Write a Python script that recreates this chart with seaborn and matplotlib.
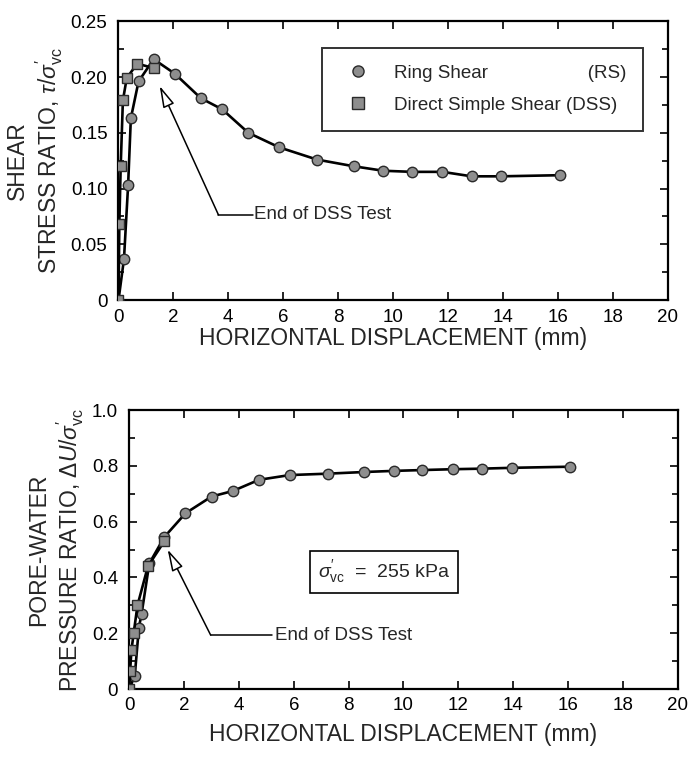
import matplotlib
matplotlib.use("Agg")
import matplotlib.pyplot as plt
from matplotlib.lines import Line2D
from matplotlib.ticker import MultipleLocator, FixedLocator
import numpy as np
import pandas as pd
import seaborn as sns

# ---------------- data ----------------
rs_disp = [0, 0.2, 0.35, 0.45, 0.73, 1.28, 2.05, 3.0, 3.78, 4.73, 5.85, 7.23,
           8.57, 9.64, 10.69, 11.8, 12.86, 13.95, 16.08]
rs_tau = [0, 0.037, 0.103, 0.163, 0.196, 0.216, 0.203, 0.181, 0.171, 0.150,
          0.137, 0.126, 0.120, 0.116, 0.115, 0.115, 0.111, 0.111, 0.112]
rs_du = [0, 0.047, 0.22, 0.27, 0.45, 0.545, 0.63, 0.69, 0.71, 0.75, 0.767,
         0.772, 0.778, 0.782, 0.785, 0.788, 0.79, 0.793, 0.797]

dss_disp = [0, 0.03, 0.08, 0.16, 0.3, 0.68, 1.28]
dss_tau = [0, 0.068, 0.120, 0.179, 0.199, 0.212, 0.208]
dss_du = [0, 0.065, 0.14, 0.20, 0.30, 0.44, 0.53]

x_ticks = [0, 2, 4, 6, 8, 10, 12, 14, 16, 18, 20]
tau_ticks = [0, 0.05, 0.10, 0.15, 0.20, 0.25]
tau_tick_labels = ["0", "0.05", "0.10", "0.15", "0.20", "0.25"]
du_ticks = [0, 0.2, 0.4, 0.6, 0.8, 1.0]
du_tick_labels = ["0", "0.2", "0.4", "0.6", "0.8", "1.0"]

series_names = ["Ring Shear", "Direct Simple Shear"]

df_top = pd.concat([
    pd.DataFrame({"disp": rs_disp, "val": rs_tau, "test": "RS"}),
    pd.DataFrame({"disp": dss_disp, "val": dss_tau, "test": "DSS"}),
], ignore_index=True)
df_bot = pd.concat([
    pd.DataFrame({"disp": rs_disp, "val": rs_du, "test": "RS"}),
    pd.DataFrame({"disp": dss_disp, "val": dss_du, "test": "DSS"}),
], ignore_index=True)

# ---------------- style ----------------
sns.set_theme(style="ticks")
plt.rcParams["font.family"] = ["Liberation Sans", "DejaVu Sans"]
plt.rcParams["mathtext.fontset"] = "custom"
plt.rcParams["mathtext.rm"] = "Liberation Sans"
plt.rcParams["mathtext.it"] = "Liberation Sans:italic"
plt.rcParams["axes.linewidth"] = 1.6

fig = plt.figure(figsize=(6.95, 7.58), dpi=100)
ax1 = fig.add_axes([0.1705, 0.604, 0.79, 0.368])
ax2 = fig.add_axes([0.186, 0.091, 0.789, 0.368])

face = "#8e8e8e"
edge = "#2a2a2a"


def draw(ax, df, xlabelpad):
    sns.lineplot(data=df, x="disp", y="val", hue="test", style="test",
                 markers={"RS": "o", "DSS": "s"}, dashes=False,
                 palette={"RS": "black", "DSS": "black"},
                 sort=False, estimator=None, lw=1.9, ax=ax,
                 markersize=7.5, markerfacecolor=face,
                 markeredgecolor=edge, markeredgewidth=1.0,
                 legend=False, zorder=3)
    ax.set_xlim(0, 20)
    ax.xaxis.set_major_locator(FixedLocator(x_ticks))
    ax.set_xticklabels([str(t) for t in x_ticks])
    ax.tick_params(axis="both", which="both", direction="in",
                   top=True, right=True, labelsize=13.5, width=1.2,
                   colors="black")
    ax.tick_params(which="major", length=6)
    ax.tick_params(which="minor", length=4)
    ax.tick_params(axis="x", pad=6)
    ax.tick_params(axis="y", pad=8)
    ax.set_xlabel("HORIZONTAL DISPLACEMENT (mm)", fontsize=16.5,
                  labelpad=xlabelpad)
    for s in ax.spines.values():
        s.set_linewidth(1.6)
        s.set_color("black")


draw(ax1, df_top, 1)
draw(ax2, df_bot, 6)

ylab_kw = dict(fontsize=16.5, linespacing=1.2, labelpad=4)

# top axes
ax1.set_ylim(0, 0.25)
ax1.yaxis.set_major_locator(FixedLocator(tau_ticks))
ax1.set_yticklabels(tau_tick_labels)
ax1.yaxis.set_minor_locator(MultipleLocator(0.025))
ax1.set_ylabel("SHEAR\nSTRESS RATIO, $\\mathit{\\tau}/\\sigma_{\\rm vc}^{\\prime}$",
               **ylab_kw)

# bottom axes
ax2.set_ylim(0, 1.0)
ax2.yaxis.set_major_locator(FixedLocator(du_ticks))
ax2.set_yticklabels(du_tick_labels)
ax2.yaxis.set_minor_locator(MultipleLocator(0.1))
ax2.set_ylabel("PORE-WATER\nPRESSURE RATIO, $\\Delta U/\\sigma_{\\rm vc}^{\\prime}$",
               **ylab_kw)

# legend
handles = [
    Line2D([], [], ls="none", marker="o", markersize=8, mfc=face, mec=edge),
    Line2D([], [], ls="none", marker="s", markersize=8, mfc=face, mec=edge),
]
labels = [series_names[0] + "                   (RS)",
          series_names[1] + " (DSS)"]
leg = ax1.legend(handles, labels, loc="upper right",
                 bbox_to_anchor=(0.955, 0.905), fontsize=13.5,
                 frameon=True, fancybox=False, edgecolor="black",
                 handletextpad=0.9, borderpad=0.9, labelspacing=0.8,
                 borderaxespad=0)
leg.get_frame().set_linewidth(1.4)

# annotations: End of DSS Test
arrow_kw = dict(arrowstyle="-|>,head_length=1.1,head_width=0.3",
                lw=1.1, color="black", fc="white", shrinkA=0, shrinkB=0)

ax1.plot([3.64, 4.9], [0.0765, 0.0765], color="black", lw=1.1)
ax1.annotate("", xy=(1.5, 0.192), xytext=(3.64, 0.0765), arrowprops=arrow_kw)
ax1.text(4.95, 0.0765, "End of DSS Test", fontsize=13.5, va="center",
         ha="left")

ax2.plot([2.97, 5.2], [0.193, 0.193], color="black", lw=1.1)
ax2.annotate("", xy=(1.4, 0.50), xytext=(2.97, 0.193), arrowprops=arrow_kw)
ax2.text(5.3, 0.193, "End of DSS Test", fontsize=13.5, va="center",
         ha="left")

ax2.text(9.3, 0.42, "$\\sigma_{\\rm vc}^{\\prime}$  =  255 kPa", fontsize=14,
         ha="center", va="center",
         bbox=dict(boxstyle="square,pad=0.4", fc="white", ec="black",
                   lw=1.2))

fig.savefig("out.png", dpi=100)
